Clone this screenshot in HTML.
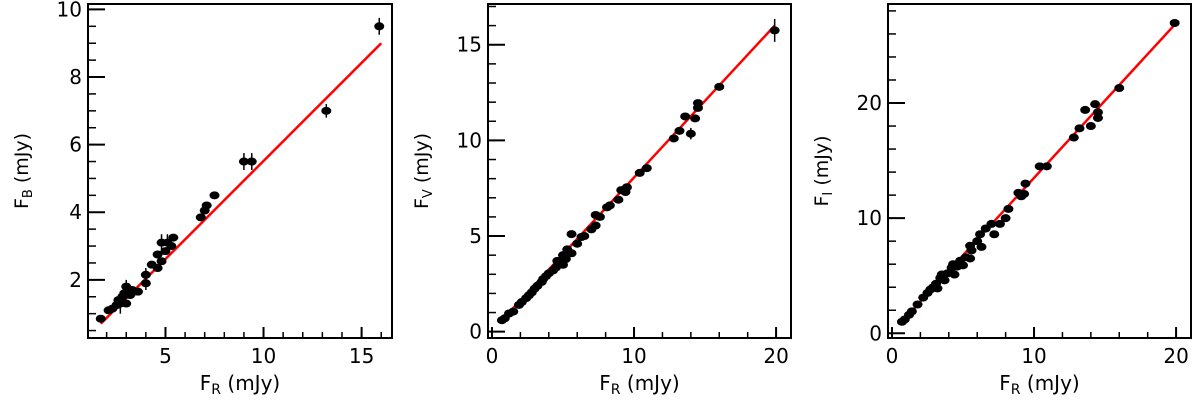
<!DOCTYPE html>
<html><head><meta charset="utf-8"><style>
html,body{margin:0;padding:0;background:#fff;}
svg{display:block;font-family:"DejaVu Sans","Liberation Sans",sans-serif;}
</style></head><body>
<svg id="chart" width="1200" height="400" viewBox="0 0 1200 400" xmlns="http://www.w3.org/2000/svg"></svg>
<script>
// Panel 1: F_B vs F_R
const bFR=[1.7,2.1,2.3,2.5,2.6,2.7,2.8,2.9,3.0,3.0,3.2,3.3,3.4,3.6,4.0,4.0,4.3,4.6,4.6,4.8,4.8,5.0,5.1,5.3,5.4,6.8,7.0,7.1,7.5,9.0,9.4,13.2,15.9];
const bFlux=[0.85,1.1,1.15,1.25,1.4,1.3,1.5,1.6,1.3,1.8,1.55,1.7,1.65,1.65,1.9,2.15,2.45,2.35,2.75,3.1,2.55,2.85,3.1,3.0,3.25,3.85,4.05,4.2,4.5,5.5,5.5,7.0,9.5];
const bErr=[0,0,0,0,0,0.3,0,0,0,0.2,0,0,0,0,0.2,0.2,0,0,0,0.25,0,0,0.25,0,0,0.1,0,0.1,0.1,0.25,0.25,0.2,0.25];
const bFit=[1.7,0.7,16.0,9.0];
const bXTicks=[5,10,15]; const bYTicks=[2,4,6,8,10];
// Panel 2: F_V vs F_R
const vFR=[0.7,0.9,1.2,1.5,1.9,2.1,2.4,2.6,2.8,3.0,3.2,3.5,3.6,3.8,4.0,4.3,4.5,4.6,5.0,5.2,5.0,5.6,5.3,5.6,6.0,6.3,6.5,7.0,7.3,7.3,7.6,8.1,8.3,8.9,9.1,9.4,9.5,10.4,10.9,12.8,13.2,13.6,14.0,14.3,14.5,14.5,16.0,19.9];
const vFlux=[0.6,0.7,0.95,1.05,1.4,1.55,1.75,1.9,2.05,2.25,2.4,2.6,2.75,2.9,3.05,3.2,3.35,3.7,3.5,3.8,4.0,4.1,4.3,5.1,4.6,4.95,5.0,5.35,5.55,6.1,6.0,6.5,6.6,6.9,7.4,7.3,7.55,8.3,8.55,10.1,10.5,11.25,10.35,11.15,11.7,11.95,12.8,15.75];
const vErr=[0,0,0,0,0,0,0,0,0,0,0,0,0,0,0,0,0,0,0,0,0,0,0,0.2,0,0,0,0,0,0,0,0,0,0,0,0,0,0,0,0,0,0,0.3,0,0,0,0,0.6];
const vFit=[0.7,0.6,19.9,16.0];
const vXTicks=[0,10,20]; const vYTicks=[0,5,10,15];
// Panel 3: F_I vs F_R
const iFR=[0.7,0.9,1.2,1.4,1.8,2.2,2.5,2.7,2.9,3.1,3.2,3.4,3.5,3.7,3.9,4.2,4.3,4.4,4.6,4.8,5.0,5.2,5.5,5.6,5.5,6.0,6.2,6.3,6.6,7.0,7.2,7.6,8.0,8.2,8.9,9.1,9.3,9.4,10.4,10.9,12.8,13.2,13.6,14.0,14.3,14.5,14.5,16.0,19.9];
const iFlux=[1.0,1.2,1.6,1.9,2.5,3.1,3.5,3.8,4.0,4.3,3.9,4.8,5.1,4.6,5.2,5.7,6.0,5.1,5.8,6.3,5.9,6.6,7.6,7.2,6.5,8.0,8.6,7.5,9.1,9.5,8.6,9.5,10.0,10.8,12.2,11.9,12.1,13.0,14.5,14.5,17.0,17.8,19.4,18.0,19.9,19.2,18.7,21.3,26.95];
const iErr=[0,0,0,0,0,0,0,0,0,0,0,0,0,0,0,0,0,0,0,0,0,0,0,0,0,0,0,0,0,0,0,0,0,0,0,0,0,0,0,0,0,0,0,0,0,0,0,0,0.3];
const iFit=[0.7,1.0,19.9,26.8];
const iXTicks=[0,10,20]; const iYTicks=[0,10,20];

const NS='http://www.w3.org/2000/svg';
const svg=document.getElementById('chart');
function mk(tag,attrs,parent){const e=document.createElementNS(NS,tag);for(const k in attrs)e.setAttribute(k,attrs[k]);(parent||svg).appendChild(e);return e;}

function panel(cfg){
  const g=mk('g',{});
  
  
  const L=cfg.box[0],R=cfg.box[1],T=cfg.box[2],B=cfg.box[3];
  const sx=v=>L+(v-cfg.xr[0])/(cfg.xr[1]-cfg.xr[0])*(R-L);
  const sy=v=>B-(v-cfg.yr[0])/(cfg.yr[1]-cfg.yr[0])*(B-T);
  for(let v=Math.ceil(cfg.xr[0]/cfg.xm)*cfg.xm;v<=cfg.xr[1];v+=cfg.xm){const x=sx(v);const t=mk('line',{x1:x,x2:x,y1:B,y2:B-6,stroke:'#000','stroke-width':1.5},g);}
  for(let v=Math.ceil(cfg.yr[0]/cfg.ym)*cfg.ym;v<=cfg.yr[1];v+=cfg.ym){const y=sy(v);const t=mk('line',{x1:L,x2:L+8,y1:y,y2:y,stroke:'#000','stroke-width':1.5},g);}
  cfg.xt.forEach(v=>{const x=sx(v);
    const t=mk('line',{x1:x,x2:x,y1:B,y2:B-11,stroke:'#000','stroke-width':2},g);
    const tx=mk('text',{x:x,y:B+25,'text-anchor':'middle','font-size':20},g);tx.textContent=v;});
  cfg.yt.forEach(v=>{const y=sy(v);
    const t=mk('line',{x1:L,x2:L+17,y1:y,y2:y,stroke:'#000','stroke-width':2},g);
    const tx=mk('text',{x:L-6,y:y+7,'text-anchor':'end','font-size':20},g);tx.textContent=v;});
  const f=cfg.fit;
  const fl=mk('line',{x1:sx(f[0]),y1:sy(f[1]),x2:sx(f[2]),y2:sy(f[3]),stroke:'#ff0000','stroke-width':2.5},g);
  
  cfg.xs.forEach((xv,i)=>{const x=sx(xv),y=sy(cfg.ys[i]);const e=cfg.es[i];
    if(e>0){const eb=mk('line',{x1:x,x2:x,y1:sy(cfg.ys[i]-e),y2:sy(cfg.ys[i]+e),stroke:'#000','stroke-width':1.5},g);}
    const c=mk('ellipse',{cx:x,cy:y,rx:5,ry:4,fill:'#000'},g);
    
    });
  const fr=mk('rect',{x:L,y:T,width:R-L,height:B-T,fill:'none',stroke:'#000','stroke-width':2},g);
  
  const xl=mk('text',{x:(L+R)/2,y:390,'text-anchor':'middle','font-size':20},g);
  xl.innerHTML='F<tspan font-size="14" dy="4">R</tspan><tspan dy="-4"> (mJy)</tspan>';
  
  const cy=(T+B)/2;
  const yl=mk('text',{x:0,y:0,'text-anchor':'middle','font-size':19,transform:`translate(${cfg.ylx},${cy}) rotate(-90)`},g);
  yl.innerHTML='F<tspan font-size="13" dy="4">'+cfg.sub+'</tspan><tspan dy="-4"> (mJy)</tspan>';
  
}
panel({name:'panel-fb',box:[88,392,4,338],xr:[1.05,16.55],yr:[0.28,10.16],xm:1,ym:0.5,xt:bXTicks,yt:bYTicks,xs:bFR,ys:bFlux,es:bErr,fit:bFit,sub:'B',ylx:28});
panel({name:'panel-fv',box:[488,791,4,338],xr:[-0.28,21.05],yr:[-0.33,17.13],xm:2,ym:1,xt:vXTicks,yt:vYTicks,xs:vFR,ys:vFlux,es:vErr,fit:vFit,sub:'V',ylx:428});
panel({name:'panel-fi',box:[888,1191,4,338],xr:[-0.28,21.05],yr:[-0.41,28.6],xm:2,ym:2,xt:iXTicks,yt:iYTicks,xs:iFR,ys:iFlux,es:iErr,fit:iFit,sub:'I',ylx:828});
</script>
</body></html>
